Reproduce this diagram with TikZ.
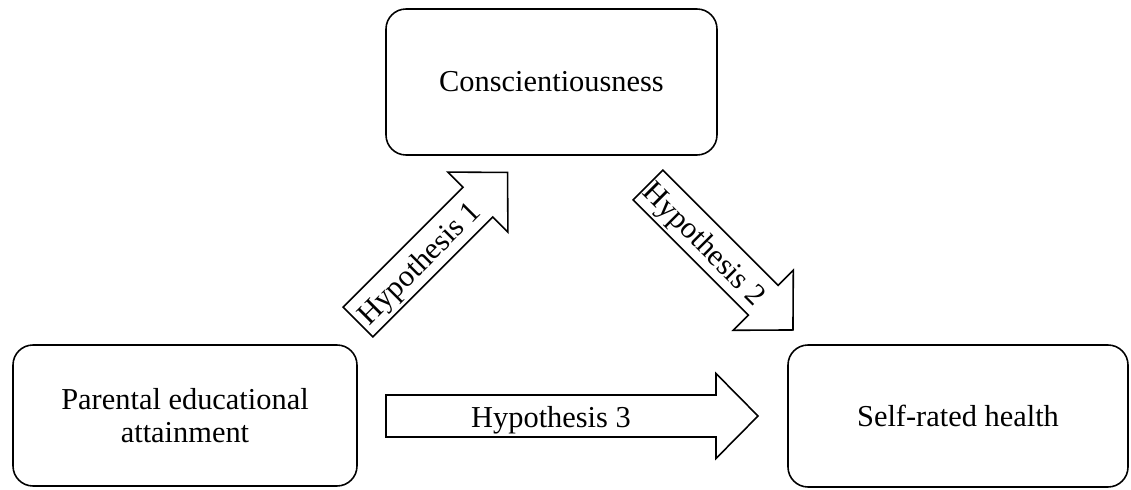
\documentclass[tikz,border=0pt]{standalone}
\usepackage{fontspec}
\setmainfont{Liberation Serif}

\begin{document}
\begin{tikzpicture}[
    box/.style={draw, rounded corners=0.4cm, line width=0.9pt, align=center,
                font=\fontsize{17.3}{19}\selectfont},
    harrow/.style={draw, line width=0.9pt, line join=miter},
    hlbl/.style={inner sep=0pt, anchor=base, font=\fontsize{17.3}{19}\selectfont},
]
    \useasboundingbox (0, 0) rectangle (22.62, 9.78);

    % Mediator
    \node[box, minimum width=6.62cm, minimum height=2.92cm] (consc) at (11.03, 8.14)
        {Conscientiousness};

    % Predictor and outcome
    \node[box, minimum width=6.88cm, minimum height=2.82cm] (parent) at (3.70, 1.47)
        {Parental educational\\attainment};
    \node[box, minimum width=6.80cm, minimum height=2.84cm] (health) at (19.16, 1.46)
        {Self-rated health};

    % Hypotheses: tail x / tail y / angle / length / number
    \foreach \x/\y/\ang/\len/\n in {7.16/3.34/45/4.23/1, 12.96/6.08/-45/4.10/2,
                                    7.72/1.46/0/7.44/3} {
        \begin{scope}[shift={(\x, \y)}, rotate=\ang]
            \draw[harrow] (0, -0.42) -- ({\len-0.84}, -0.42) -- ({\len-0.84}, -0.85)
                -- (\len, 0) -- ({\len-0.84}, 0.85) -- ({\len-0.84}, 0.42)
                -- (0, 0.42) -- cycle;
            \node[hlbl, rotate=\ang] (h\n) at ({(\len-0.84)/2}, -0.22) {Hypothesis \n};
        \end{scope}
    }
\end{tikzpicture}
\end{document}
